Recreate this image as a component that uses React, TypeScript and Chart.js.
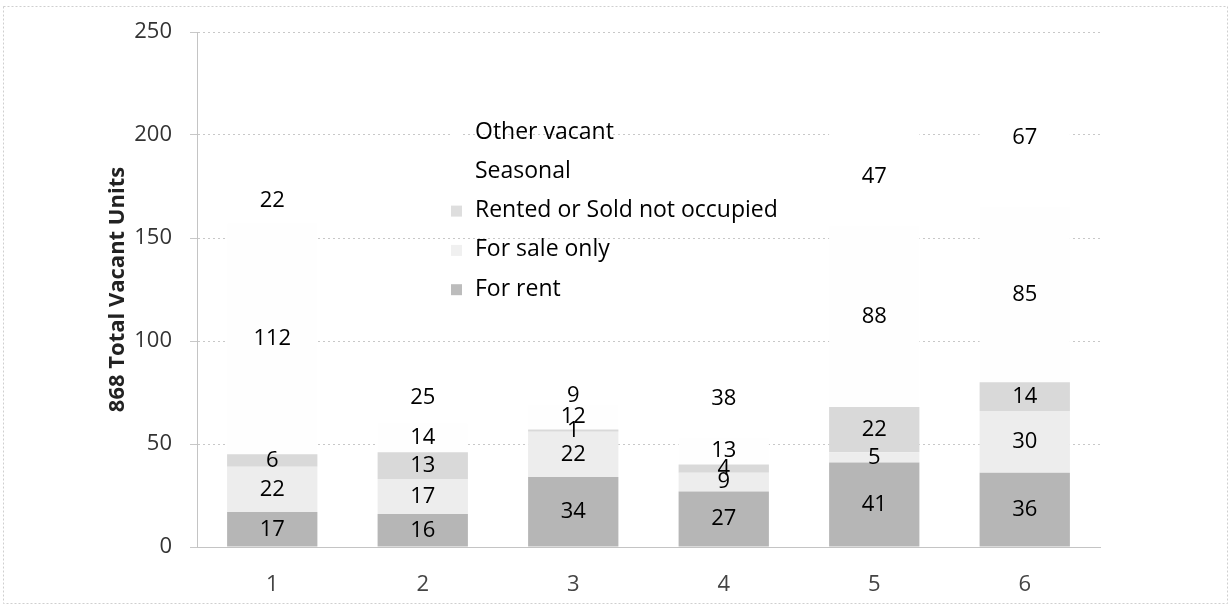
import React, { useEffect, useRef } from "react";
import { Chart, registerables } from "chart.js";

Chart.register(...registerables);

const categories = ["1", "2", "3", "4", "5", "6"];
const forRent = [17, 16, 34, 27, 41, 36];
const forSale = [22, 17, 22, 9, 5, 30];
const rentedSold = [6, 13, 1, 4, 22, 14];
const seasonal = [112, 14, 12, 13, 88, 85];
const otherVacant = [22, 25, 9, 38, 47, 67];

const seriesNames = ["For rent", "For sale only", "Rented or Sold not occupied", "Seasonal", "Other vacant"];
const seriesColors = ["#b6b6b6", "#ededed", "#d9d9d9", "#fefefe", "#ffffff"];
const legendMarkerColors = ["#bcbcbc", "#f0f0f0", "#dedede", "#ffffff", "#ffffff"];

const FONT = "'Open Sans', 'Noto Sans', sans-serif";

const dataLabelPlugin = {
  id: "dataLabels",
  afterDatasetsDraw(chart: any) {
    const ctx = chart.ctx;
    ctx.save();
    ctx.font = `22px ${FONT}`;
    ctx.fillStyle = "#000000";
    ctx.textAlign = "center";
    ctx.textBaseline = "middle";
    chart.data.datasets.forEach((ds: any, i: number) => {
      const meta = chart.getDatasetMeta(i);
      meta.data.forEach((el: any, j: number) => {
        const v = ds.data[j];
        const y = (el.y + el.base) / 2;
        ctx.fillText(String(v), el.x, y);
      });
    });
    ctx.restore();
  },
};

const customLegendPlugin = {
  id: "customLegend",
  afterDraw(chart: any) {
    const ctx = chart.ctx;
    ctx.save();
    ctx.font = `23px ${FONT}`;
    ctx.textAlign = "left";
    ctx.textBaseline = "middle";
    const startY = 132;
    const step = 39.3;
    const n = seriesNames.length;
    for (let k = 0; k < n; k++) {
      const idx = n - 1 - k;
      const y = startY + k * step;
      ctx.fillStyle = legendMarkerColors[idx];
      ctx.fillRect(451, y - 5, 11, 11);
      ctx.fillStyle = "#000000";
      ctx.fillText(seriesNames[idx], 475, y);
    }
    ctx.restore();
  },
};

const frameBorderPlugin = {
  id: "frameBorder",
  beforeDraw(chart: any) {
    const ctx = chart.ctx;
    ctx.save();
    ctx.fillStyle = "#ffffff";
    ctx.fillRect(0, 0, chart.width, chart.height);
    ctx.strokeStyle = "#cfcfcf";
    ctx.lineWidth = 1;
    ctx.setLineDash([2, 2]);
    ctx.strokeRect(3.5, 6.5, chart.width - 7, chart.height - 10);
    ctx.restore();
  },
};

export default function App() {
  const canvasRef = useRef<HTMLCanvasElement | null>(null);

  useEffect(() => {
    document.body.style.margin = "0";
    const canvas = canvasRef.current;
    if (!canvas) return;
    const values = [forRent, forSale, rentedSold, seasonal, otherVacant];
    const chart = new Chart(canvas, {
      type: "bar",
      data: {
        labels: categories,
        datasets: values.map((arr, i) => ({
          label: seriesNames[i],
          data: arr,
          backgroundColor: seriesColors[i],
          borderWidth: 0,
          barPercentage: 0.6,
          categoryPercentage: 1.0,
        })),
      },
      options: {
        animation: false,
        responsive: false,
        maintainAspectRatio: false,
        layout: { padding: { left: 101, right: 131, top: 32, bottom: 8 } },
        plugins: {
          legend: { display: false },
          tooltip: { enabled: false },
        },
        scales: {
          x: {
            stacked: true,
            afterFit(scale: any) {
              scale.height = 52;
            },
            grid: { display: false, drawTicks: false },
            border: { display: true, color: "#c4c4c4", width: 1 },
            ticks: {
              padding: 25,
              color: "#444444",
              font: { family: FONT, size: 22 },
            },
          },
          y: {
            stacked: true,
            min: 0,
            max: 250,
            afterFit(scale: any) {
              scale.width = 96;
            },
            ticks: {
              stepSize: 50,
              padding: 18,
              color: "#333333",
              font: { family: FONT, size: 22 },
            },
            grid: {
              color: "#c8c8c8",
              tickLength: 7,
              drawTicks: true,
            },
            border: { display: true, color: "#c4c4c4", width: 1, dash: [2, 3] },
            title: {
              display: true,
              text: "868 Total Vacant Units",
              color: "#222222",
              font: { family: FONT, size: 22, weight: "bold" },
              padding: 4,
            },
          },
        },
      },
      plugins: [frameBorderPlugin, dataLabelPlugin, customLegendPlugin],
    } as any);
    return () => chart.destroy();
  }, []);

  return (
    <div style={{ position: "absolute", left: 0, top: 0, width: 1231, height: 607 }}>
      <canvas ref={canvasRef} width={1231} height={607} style={{ display: "block" }} />
    </div>
  );
}
